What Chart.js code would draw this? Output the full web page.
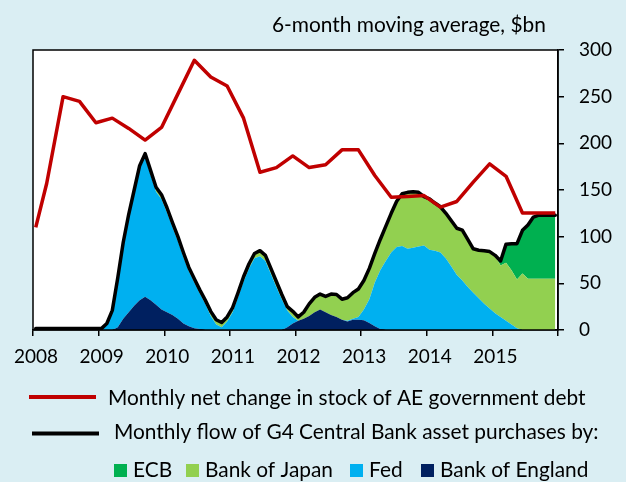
<!DOCTYPE html>
<html>
<head>
<meta charset="utf-8">
<script src="https://cdn.jsdelivr.net/npm/chart.js@4.4.1/dist/chart.umd.min.js"></script>
<style>
  html, body { margin: 0; padding: 0; background: #DAEEF3; }
  #wrap { width: 626px; height: 482px; }
</style>
</head>
<body>
<div id="wrap"><canvas id="flowChart" width="626" height="482"></canvas></div>
<script>
// One value per month, Jan 2008 .. Dec 2015 ($bn, 6-month moving average)
const firstYear = 2008;
const yearTicks = [2008, 2009, 2010, 2011, 2012, 2013, 2014, 2015];

const boeFlow = [
  0, 0, 0, 0, 0, 0, 0, 0, 0, 0, 0, 0,
  0, 0, 0, 3, 12, 19, 26, 32, 35.5, 32, 27, 22,
  19, 16, 12, 7, 4, 2, 1, 0, 0, 0, 0, 0,
  0, 0, 0, 0, 0, 0, 0, 0, 0, 0, 3, 7,
  10, 12, 15, 19, 22, 19, 16, 14, 11, 9, 11, 11,
  10.5, 7.5, 4, 1, 0, 0, 0, 0, 0, 0, 0, 0,
  0, 0, 0, 0, 0, 0, 0, 0, 0, 0, 0, 0,
  0, 0, 0, 0, 0, 0, 0, 0, 0, 0, 0, 0
];
const fedFlow = [
  0, 0, 0, 0, 0, 0, 0, 0, 0, 0, 0, 0,
  0.5, 6, 20, 52, 81, 103, 122, 141, 149.5, 134, 121, 118,
  107, 94, 83, 71, 59, 49, 38, 28, 15, 6, 3, 9,
  19, 35, 52, 66, 77, 79, 74, 60, 46, 33, 18, 7,
  0, 0, 0, 0, 0, 0, 0, 0, 0, 1, 1, 3,
  11.5, 25.5, 47, 63, 74, 83, 89, 90, 87, 88, 89.5, 90.5,
  86, 85, 83, 76.5, 68, 59, 53, 46, 40, 34, 28, 23,
  18, 14, 10, 6, 2, 0, 0, 0, 0, 0, 0, 0
];
const bojFlow = [
  1.5, 1.5, 1.5, 1.5, 1.5, 1.5, 1.5, 1.5, 1.5, 1.5, 1.5, 1.5,
  1, 1, 1, 1, 1, 2, 2, 3, 4, 5, 5, 5,
  5, 5, 5, 5, 4, 4, 4, 4, 5, 5, 5, 5,
  5, 5, 5, 5, 5, 6, 6, 6, 6, 5, 4, 6,
  4, 7, 13, 16, 16.5, 17, 22.5, 24, 22, 24.5, 28, 30,
  31, 33, 31, 33, 37, 42, 49, 56, 60.5, 60, 58, 52.5,
  54.6, 51, 49, 48.5, 49, 50, 54, 51, 47, 51.5, 57, 61,
  61, 55, 62, 58, 52, 60.5, 55, 55, 55, 55, 55, 55
];
const ecbFlow = [
  0, 0, 0, 0, 0, 0, 0, 0, 0, 0, 0, 0,
  0, 0, 0, 0, 0, 0, 0, 0, 0, 0, 0, 0,
  0, 0, 0, 0, 0, 0, 0, 0, 0, 0, 0, 0,
  0, 0, 0, 0, 0, 0, 0, 0, 0, 0, 0, 0,
  0, 0, 0, 0, 0, 0, 0, 0, 0, 0, 0, 0,
  0, 0, 0, 0, 0, 0, 0, 0, 0, 0, 0, 0,
  0, 0, 0, 0, 0, 0, 0, 0, 0, 0, 0, 0,
  1, 5, 20, 28.5, 38.5, 46.3, 57.5, 66, 68, 68, 68, 68
];
const totalFlow = [
  1.5, 1.5, 1.5, 1.5, 1.5, 1.5, 1.5, 1.5, 1.5, 1.5, 1.5, 1.5,
  1.5, 7, 21, 56, 94, 124, 150, 176, 189, 171, 153, 145,
  131, 115, 100, 83, 67, 55, 43, 32, 20, 11, 8, 14,
  24, 40, 57, 71, 82, 85, 80, 66, 52, 38, 25, 20,
  14, 19, 28, 35, 38.5, 36, 38.5, 38, 33, 34.5, 40, 44,
  53, 66, 82, 97, 111, 125, 138, 146, 147.5, 148, 147.5, 143,
  140.6, 136, 132, 125, 117, 109, 107, 97, 87, 85.5, 85, 84,
  80, 74, 92, 92.5, 92.5, 106.8, 112.5, 121, 123, 123, 123, 123
];

// Net change in AE government debt: month index (0 = Jan 2008) and value
const debtMonths = [0, 2, 5, 8, 11, 14, 17, 20, 23, 26, 29, 32, 35, 38, 41, 44, 47,
  50, 53, 56, 59, 62, 65, 68, 71, 74, 77, 80, 83, 86, 89, 92, 95];
const debtChange = [110, 157, 250, 245, 222, 227, 216, 203.5, 217, 253, 289, 271, 261.5,
  227, 169, 174, 186.5, 174, 177, 193, 193, 165.5, 142.3, 143, 144, 131.7, 137.7, 158.4,
  178, 164.7, 125.3, 125.3, 125.3];

const seriesNames = ['ECB', 'Bank of Japan', 'Fed', 'Bank of England'];
const seriesColors = ['#00B050', '#92D050', '#00B0F0', '#002060'];
const redTitle = 'Monthly net change in stock of AE government debt';
const blackTitle = 'Monthly flow of G4 Central Bank asset purchases by:';
const unitTitle = '6-month moving average, $bn';

const monthX = i => firstYear + (i + 0.5) / 12;
const asPoints = arr => arr.map((v, i) => ({ x: monthX(i), y: v }));
const fontFamily = 'Lato, "Open Sans", sans-serif';

function fitSize(ctx, text, width) {
  ctx.font = '100px ' + fontFamily;
  return 100 * width / ctx.measureText(text).width;
}

const decor = {
  id: 'decor',
  beforeDraw(chart) {
    const { ctx, chartArea: a } = chart;
    ctx.save();
    ctx.fillStyle = '#DAEEF3';
    ctx.fillRect(0, 0, chart.width, chart.height);
    ctx.fillStyle = '#ffffff';
    ctx.fillRect(a.left, a.top, a.right - a.left, a.bottom - a.top);
    ctx.restore();
  },
  afterDatasetsDraw(chart) {
    const { ctx, chartArea: a } = chart;
    ctx.save();
    ctx.strokeStyle = '#000';
    ctx.lineWidth = 1.5;
    ctx.strokeRect(a.left, a.top, a.right - a.left, a.bottom - a.top);
    ctx.restore();
  },
  afterDraw(chart) {
    const ctx = chart.ctx;
    ctx.save();
    ctx.fillStyle = '#000';
    ctx.textBaseline = 'alphabetic';
    ctx.textAlign = 'left';

    const tSize = fitSize(ctx, unitTitle, 274);
    ctx.font = tSize + 'px ' + fontFamily;
    ctx.fillText(unitTitle, 272, 31.5);

    const lSize = fitSize(ctx, redTitle, 478);
    ctx.font = lSize + 'px ' + fontFamily;

    ctx.lineWidth = 4;
    ctx.strokeStyle = '#C00000';
    ctx.beginPath(); ctx.moveTo(29, 397); ctx.lineTo(96, 397); ctx.stroke();
    ctx.fillText(redTitle, 108, 405);

    ctx.strokeStyle = '#000';
    ctx.beginPath(); ctx.moveTo(32, 433.5); ctx.lineTo(99, 433.5); ctx.stroke();
    ctx.fillText(blackTitle, 114, 439);

    const boxX = [114, 186, 350, 421];
    seriesNames.forEach((name, i) => {
      ctx.fillStyle = seriesColors[i];
      ctx.fillRect(boxX[i], 464, 13, 13);
      ctx.fillStyle = '#000';
      ctx.fillText(name, boxX[i] + 19, 476.5);
    });
    ctx.restore();
  }
};

const areaSet = (label, values, color, fill) => ({
  label, data: asPoints(values), yAxisID: 'y',
  backgroundColor: color, borderWidth: 0, pointRadius: 0, fill, tension: 0
});

new Chart(document.getElementById('flowChart'), {
  type: 'line',
  data: {
    datasets: [
      {
        label: redTitle,
        data: debtMonths.map((m, i) => ({ x: monthX(m), y: debtChange[i] })),
        yAxisID: 'y1', borderColor: '#C00000', borderWidth: 3.5,
        pointRadius: 0, fill: false, borderJoinStyle: 'round'
      },
      {
        label: blackTitle,
        data: asPoints(totalFlow),
        yAxisID: 'y1', borderColor: '#000', borderWidth: 3.5,
        pointRadius: 0, fill: false, borderJoinStyle: 'round', borderCapStyle: 'round'
      },
      areaSet('Bank of England', boeFlow, '#002060', 'origin'),
      areaSet('Fed', fedFlow, '#00B0F0', '-1'),
      areaSet('Bank of Japan', bojFlow, '#92D050', '-1'),
      areaSet('ECB', ecbFlow, '#00B050', '-1')
    ]
  },
  options: {
    responsive: false,
    animation: false,
    devicePixelRatio: 1,
    layout: { padding: { left: 33, top: 50, right: 0, bottom: 0 } },
    plugins: { legend: { display: false }, tooltip: { enabled: false } },
    scales: {
      x: {
        type: 'linear', min: 2008, max: 2016,
        afterBuildTicks: s => { s.ticks = yearTicks.concat([2016]).map(v => ({ value: v })); },
        afterFit: s => { s.height = 152; },
        grid: { drawOnChartArea: false, tickLength: 6, color: '#000', lineWidth: 1.5 },
        border: { display: true, color: '#000', width: 1.5 },
        ticks: {
          callback: v => (yearTicks.includes(v) ? String(v) : ''),
          font: { family: fontFamily, size: 19 }, color: '#000',
          padding: 9, labelOffset: 3, maxRotation: 0, autoSkip: false
        }
      },
      y: { display: false, stacked: true, min: 0, max: 300 },
      y1: {
        position: 'right', min: 0, max: 300,
        afterFit: s => { s.width = 68; },
        grid: { drawOnChartArea: false, tickLength: 6, color: '#000', lineWidth: 1.5 },
        border: { display: true, color: '#000', width: 1.5 },
        ticks: {
          stepSize: 50, font: { family: fontFamily, size: 19 }, color: '#000', padding: 15
        }
      }
    }
  },
  plugins: [decor]
});
</script>
</body>
</html>
